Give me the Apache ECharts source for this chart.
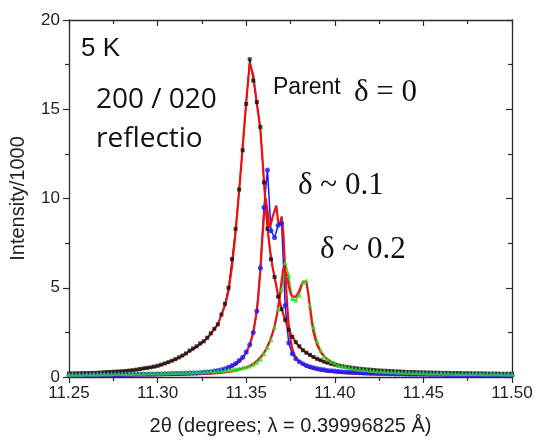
<!DOCTYPE html>
<html>
<head>
<meta charset="utf-8">
<script src="https://cdn.jsdelivr.net/npm/echarts@6/dist/echarts.min.js"></script>
<style>
html,body{margin:0;padding:0;background:#fff;}
#c{width:536px;height:443px;}
</style>
</head>
<body>
<div id="c"></div>
<script>
// ---- data grid (2theta, degrees) for measured points ----
const theta = [
 11.250, 11.252, 11.254, 11.256, 11.258, 11.260, 11.262, 11.264, 11.266, 11.268,
 11.270, 11.272, 11.274, 11.276, 11.278, 11.280, 11.282, 11.284, 11.286, 11.288,
 11.290, 11.292, 11.294, 11.296, 11.298, 11.300, 11.302, 11.304, 11.306, 11.308,
 11.310, 11.312, 11.314, 11.316, 11.318, 11.320, 11.322, 11.324, 11.326, 11.328,
 11.330, 11.332, 11.334, 11.336, 11.338, 11.340, 11.342, 11.344, 11.346, 11.348,
 11.350, 11.352, 11.354, 11.356, 11.358, 11.360, 11.362, 11.364, 11.366, 11.368,
 11.370, 11.372, 11.374, 11.376, 11.378, 11.380, 11.382, 11.384, 11.386, 11.388,
 11.390, 11.392, 11.394, 11.396, 11.398, 11.400, 11.402, 11.404, 11.406, 11.408,
 11.410, 11.412, 11.414, 11.416, 11.418, 11.420, 11.422, 11.424, 11.426, 11.428,
 11.430, 11.432, 11.434, 11.436, 11.438, 11.440, 11.442, 11.444, 11.446, 11.448,
 11.450, 11.452, 11.454, 11.456, 11.458, 11.460, 11.462, 11.464, 11.466, 11.468,
 11.470, 11.472, 11.474, 11.476, 11.478, 11.480, 11.482, 11.484, 11.486, 11.488,
 11.490, 11.492, 11.494, 11.496, 11.498, 11.500
];
// Parent, delta = 0 (black squares)
const parentObs = [
 0.20, 0.20, 0.21, 0.21, 0.22, 0.22, 0.23, 0.23, 0.24, 0.25,
 0.27, 0.28, 0.29, 0.30, 0.31, 0.32, 0.34, 0.36, 0.38, 0.41,
 0.45, 0.48, 0.51, 0.54, 0.58, 0.63, 0.69, 0.76, 0.83, 0.91,
 1.00, 1.10, 1.20, 1.32, 1.48, 1.60, 1.72, 1.88, 2.00, 2.20,
 2.45, 2.70, 2.95, 3.50, 4.10, 5.00, 6.60, 8.30, 10.5, 12.7,
 15.3, 17.8, 16.6, 15.4, 14.0, 10.9, 8.30, 6.60, 5.60, 4.50,
 3.80, 3.20, 2.65, 2.25, 1.95, 1.72, 1.50, 1.36, 1.24, 1.12,
 1.02, 0.94, 0.86, 0.80, 0.74, 0.69, 0.64, 0.60, 0.57, 0.54,
 0.51, 0.49, 0.46, 0.44, 0.42, 0.41, 0.39, 0.37, 0.36, 0.35,
 0.34, 0.33, 0.31, 0.31, 0.30, 0.29, 0.28, 0.28, 0.27, 0.26,
 0.26, 0.25, 0.25, 0.24, 0.24, 0.23, 0.23, 0.23, 0.22, 0.22,
 0.22, 0.21, 0.21, 0.21, 0.20, 0.20, 0.20, 0.20, 0.19, 0.19,
 0.19, 0.19, 0.18, 0.18, 0.18, 0.18
];
// delta ~ 0.1 (blue circles)
const delta01Obs = [
 0.10, 0.10, 0.10, 0.11, 0.11, 0.11, 0.11, 0.12, 0.12, 0.12,
 0.12, 0.12, 0.13, 0.13, 0.13, 0.13, 0.14, 0.14, 0.14, 0.15,
 0.15, 0.15, 0.16, 0.16, 0.16, 0.17, 0.17, 0.18, 0.18, 0.19,
 0.19, 0.20, 0.20, 0.21, 0.22, 0.22, 0.23, 0.24, 0.26, 0.28,
 0.30, 0.33, 0.36, 0.40, 0.46, 0.55, 0.64, 0.76, 0.92, 1.10,
 1.40, 1.80, 2.50, 3.70, 6.10, 9.50, 11.6, 8.20, 7.80, 8.50,
 8.60, 4.00, 1.90, 1.30, 1.02, 0.86, 0.74, 0.65, 0.58, 0.52,
 0.47, 0.43, 0.40, 0.37, 0.35, 0.33, 0.31, 0.29, 0.28, 0.27,
 0.26, 0.25, 0.24, 0.23, 0.22, 0.21, 0.21, 0.20, 0.19, 0.19,
 0.18, 0.18, 0.17, 0.17, 0.17, 0.16, 0.16, 0.16, 0.15, 0.15,
 0.15, 0.15, 0.14, 0.14, 0.14, 0.14, 0.13, 0.13, 0.13, 0.13,
 0.13, 0.12, 0.12, 0.12, 0.12, 0.12, 0.12, 0.11, 0.11, 0.11,
 0.11, 0.11, 0.11, 0.11, 0.10, 0.10
];
// delta ~ 0.2 (green triangles)
const delta02Obs = [
 0.15, 0.15, 0.16, 0.16, 0.16, 0.17, 0.17, 0.17, 0.17, 0.18,
 0.18, 0.18, 0.18, 0.19, 0.19, 0.19, 0.20, 0.20, 0.20, 0.21,
 0.21, 0.21, 0.22, 0.22, 0.22, 0.23, 0.23, 0.24, 0.24, 0.25,
 0.25, 0.26, 0.26, 0.27, 0.28, 0.28, 0.29, 0.30, 0.31, 0.32,
 0.33, 0.34, 0.35, 0.37, 0.38, 0.40, 0.42, 0.45, 0.48, 0.52,
 0.56, 0.62, 0.70, 0.82, 1.00, 1.30, 1.65, 2.10, 2.80, 3.80,
 4.90, 6.40, 5.70, 4.40, 4.30, 4.60, 5.30, 5.40, 4.00, 2.80,
 2.00, 1.50, 1.18, 1.00, 0.88, 0.78, 0.70, 0.64, 0.59, 0.55,
 0.52, 0.48, 0.45, 0.42, 0.40, 0.38, 0.36, 0.34, 0.33, 0.32,
 0.31, 0.30, 0.29, 0.28, 0.27, 0.26, 0.26, 0.25, 0.25, 0.24,
 0.24, 0.23, 0.23, 0.22, 0.22, 0.22, 0.21, 0.21, 0.21, 0.20,
 0.20, 0.20, 0.20, 0.19, 0.19, 0.19, 0.19, 0.18, 0.18, 0.18,
 0.18, 0.18, 0.18, 0.17, 0.17, 0.17
];
// ---- fitted profiles (red lines) ----
const fitTheta = [
 11.250, 11.260, 11.270, 11.280, 11.290, 11.300, 11.310, 11.320, 11.326, 11.330,
 11.334, 11.338, 11.340, 11.342, 11.344, 11.346, 11.348, 11.350, 11.352, 11.354,
 11.356, 11.357, 11.358, 11.359, 11.360, 11.361, 11.362, 11.363, 11.364, 11.365,
 11.366, 11.367, 11.368, 11.369, 11.370, 11.371, 11.372, 11.373, 11.374, 11.375,
 11.376, 11.377, 11.378, 11.379, 11.380, 11.381, 11.382, 11.383, 11.384, 11.385,
 11.386, 11.387, 11.388, 11.390, 11.392, 11.394, 11.396, 11.398, 11.400, 11.405,
 11.410, 11.415, 11.420, 11.430, 11.440, 11.450, 11.460, 11.480, 11.500
];
const parentFit = [
 0.18, 0.21, 0.25, 0.31, 0.42, 0.60, 0.97, 1.55, 1.98, 2.40,
 2.95, 4.00, 4.80, 6.20, 8.10, 10.4, 12.9, 15.4, 17.6, 16.9,
 15.3, 14.6, 13.8, 12.5, 11.0, 9.60, 8.40, 7.50, 6.70, 6.10,
 5.60, 5.10, 4.60, 4.20, 3.80, 3.50, 3.20, 2.90, 2.65, 2.45,
 2.25, 2.10, 1.95, 1.82, 1.70, 1.60, 1.50, 1.42, 1.35, 1.28,
 1.22, 1.16, 1.10, 1.00, 0.92, 0.85, 0.79, 0.73, 0.68, 0.58,
 0.50, 0.44, 0.39, 0.32, 0.27, 0.23, 0.20, 0.17, 0.15
];
const delta01Fit = [
 0.08, 0.09, 0.10, 0.12, 0.14, 0.16, 0.19, 0.24, 0.28, 0.31,
 0.36, 0.44, 0.50, 0.58, 0.70, 0.85, 1.05, 1.35, 1.80, 2.50,
 3.70, 4.70, 6.00, 7.60, 9.00, 10.0, 9.30, 8.40, 8.60, 9.00,
 9.30, 9.60, 8.70, 8.50, 9.00, 8.00, 6.00, 4.20, 2.90, 2.10,
 1.60, 1.30, 1.10, 0.95, 0.85, 0.77, 0.70, 0.64, 0.59, 0.55,
 0.51, 0.48, 0.45, 0.40, 0.36, 0.33, 0.30, 0.28, 0.26, 0.22,
 0.19, 0.17, 0.15, 0.13, 0.12, 0.11, 0.10, 0.09, 0.08
];
const delta02Fit = [
 0.05, 0.06, 0.07, 0.08, 0.09, 0.10, 0.12, 0.15, 0.17, 0.19,
 0.22, 0.26, 0.28, 0.31, 0.35, 0.40, 0.46, 0.53, 0.62, 0.74,
 0.90, 1.00, 1.10, 1.22, 1.36, 1.52, 1.72, 1.95, 2.20, 2.50,
 2.85, 3.30, 3.90, 4.60, 5.40, 6.10, 6.20, 5.70, 5.10, 4.70,
 4.50, 4.45, 4.50, 4.65, 4.85, 5.10, 5.35, 5.45, 5.30, 4.70,
 3.90, 3.10, 2.50, 1.80, 1.40, 1.15, 0.98, 0.85, 0.75, 0.58,
 0.47, 0.39, 0.33, 0.25, 0.20, 0.17, 0.15, 0.12, 0.10
];
// ---- axis ticks ----
const xTicks = [11.25, 11.30, 11.35, 11.40, 11.45, 11.50];
const yTicks = [0, 5, 10, 15, 20];

const pair = (xs, ys) => xs.map((x, i) => [x, ys[i]]);
const AX = '#2b2b2b';
const RED = '#ee1111';
const BLACK = '#111111';
const BLUE = '#1a1aff';
const GREEN = '#2fe02f';
const SANS = 'Liberation Sans, Arial, sans-serif';
const SERIF = 'Liberation Serif, Times New Roman, serif';

const chart = echarts.init(document.getElementById('c'), null, {renderer: 'canvas'});

function lineSeries(name, xs, ys, color, width, z) {
  return {name, type: 'line', data: pair(xs, ys), showSymbol: false, symbol: 'none',
    lineStyle: {color, width}, z, animation: false, silent: true};
}
function markSeries(name, xs, ys, color, symbol, size, z) {
  return {name, type: 'scatter', data: pair(xs, ys), symbol, symbolSize: size,
    itemStyle: {color}, z, animation: false, silent: true};
}

const baseX = {
  type: 'value', min: xTicks[0], max: xTicks[xTicks.length - 1], interval: 0.05,
  splitLine: {show: false},
  axisLine: {show: true, onZero: false, lineStyle: {color: AX, width: 1.3}},
};
const baseY = {
  type: 'value', min: yTicks[0], max: yTicks[yTicks.length - 1], interval: 5,
  splitLine: {show: false},
  axisLine: {show: true, onZero: false, lineStyle: {color: AX, width: 1.3}},
};

chart.setOption({
  animation: false,
  grid: {left: 69, right: 24, top: 20, bottom: 66, containLabel: false},
  xAxis: [
    Object.assign({}, baseX, {
      position: 'bottom',
      axisTick: {show: true, inside: false, length: 6, lineStyle: {color: AX, width: 1.2}},
      minorTick: {show: true, splitNumber: 2, length: 4, lineStyle: {color: AX, width: 1.2}},
      axisLabel: {formatter: v => v.toFixed(2), fontSize: 17, color: '#222', margin: 8,
        fontFamily: SANS},
      name: '2\u03b8 (degrees; \u03bb = 0.39996825 \u00c5)',
      nameLocation: 'middle', nameGap: 39,
      nameTextStyle: {fontSize: 20, color: '#222', fontFamily: SANS}
    }),
    Object.assign({}, baseX, {
      position: 'top',
      axisTick: {show: true, inside: true, length: 6, lineStyle: {color: AX, width: 1.2}},
      minorTick: {show: true, splitNumber: 2, length: 4, lineStyle: {color: AX, width: 1.2}},
      axisLabel: {show: false}
    })
  ],
  yAxis: [
    Object.assign({}, baseY, {
      position: 'left',
      axisTick: {show: true, inside: false, length: 6, lineStyle: {color: AX, width: 1.2}},
      minorTick: {show: true, splitNumber: 2, length: 4, lineStyle: {color: AX, width: 1.2}},
      axisLabel: {fontSize: 17, color: '#222', margin: 9, fontFamily: SANS},
      name: 'Intensity/1000', nameLocation: 'middle', nameGap: 41, nameRotate: 90,
      nameTextStyle: {fontSize: 20, color: '#222', fontFamily: SANS}
    }),
    Object.assign({}, baseY, {
      position: 'right',
      axisTick: {show: true, inside: true, length: 6, lineStyle: {color: AX, width: 1.2}},
      minorTick: {show: true, splitNumber: 2, length: 4, lineStyle: {color: AX, width: 1.2}},
      axisLabel: {show: false}
    })
  ],
  series: [
    lineSeries('parent', theta, parentObs, BLACK, 1.2, 2),
    lineSeries('d01', theta, delta01Obs, BLUE, 1.5, 2),
    lineSeries('d02', theta, delta02Obs, GREEN, 1.5, 2),
    lineSeries('parentFit', fitTheta, parentFit, RED, 2.2, 3),
    lineSeries('d01Fit', fitTheta, delta01Fit, RED, 2.2, 3),
    lineSeries('d02Fit', fitTheta, delta02Fit, RED, 2.2, 3),
    markSeries('parentPts', theta, parentObs, BLACK, 'rect', 4, 4),
    markSeries('d01Pts', theta, delta01Obs, BLUE, 'circle', 5, 4),
    markSeries('d02Pts', theta, delta02Obs, GREEN, 'triangle', 5, 4)
  ],
  graphic: [
    {type: 'text', left: 81, top: 36, z: 10, style: {text: '5 K', fontSize: 26, fill: '#111',
      fontFamily: SANS}},
    {type: 'text', left: 96, top: 86, z: 10, style: {text: '200 / 020', fontSize: 28, fill: '#111',
      fontFamily: 'Open Sans, sans-serif'}},
    {type: 'text', left: 96, top: 125, z: 10, style: {text: 'reflectio', fontSize: 28, fill: '#111',
      fontFamily: 'Open Sans, sans-serif'}},
    {type: 'text', left: 273, top: 76, z: 10, style: {text: 'Parent', fontSize: 23, fill: '#111',
      fontFamily: SANS}},
    {type: 'text', left: 354, top: 77, z: 10, style: {text: '\u03b4 = 0', fontSize: 31, fill: '#111',
      fontFamily: SERIF}},
    {type: 'text', left: 298, top: 170, z: 10, style: {text: '\u03b4 ~ 0.1', fontSize: 31, fill: '#111',
      fontFamily: SERIF}},
    {type: 'text', left: 320, top: 234, z: 10, style: {text: '\u03b4 ~ 0.2', fontSize: 31, fill: '#111',
      fontFamily: SERIF}}
  ]
});
</script>
</body>
</html>
